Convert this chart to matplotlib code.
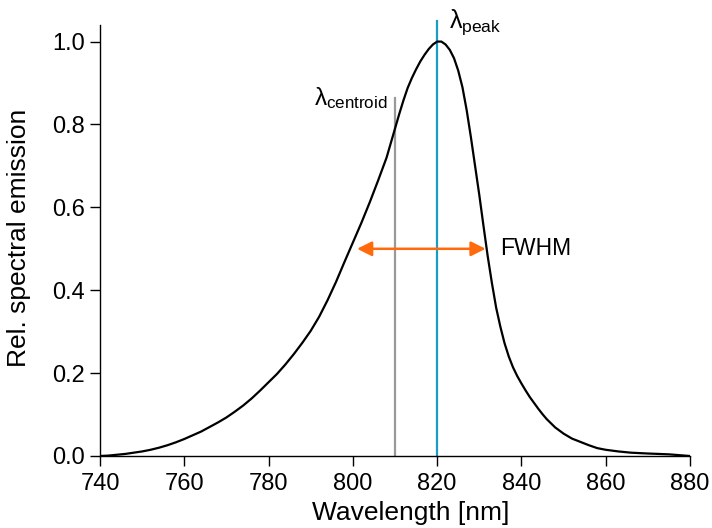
import matplotlib
matplotlib.use("Agg")
import matplotlib.pyplot as plt

# Spectrum
wavelength = [740, 742, 744, 746, 748, 750, 752, 754, 756, 758, 760, 762, 764, 766, 768,
              770, 772, 774, 776, 778, 780, 782, 784, 786, 788, 790, 792, 794, 796, 798,
              800, 802, 804, 806, 808, 809, 810, 811, 812, 813, 814, 815, 816, 817, 818,
              819, 820, 821, 822, 823, 824, 825, 826, 827, 828, 829, 830, 831, 832, 833,
              834, 835, 836, 837, 838, 839, 840, 841, 842, 843, 844, 845, 846, 848, 850,
              852, 854, 856, 858, 860, 863, 866, 870, 875, 880]
emission = [0.0, 0.001, 0.003, 0.005, 0.008, 0.011, 0.015, 0.020, 0.026, 0.033, 0.041,
            0.050, 0.059, 0.070, 0.081, 0.093, 0.107, 0.122, 0.139, 0.158, 0.178, 0.198,
            0.221, 0.246, 0.273, 0.302, 0.336, 0.376, 0.420, 0.468, 0.515, 0.562, 0.612,
            0.665, 0.720, 0.755, 0.790, 0.825, 0.858, 0.888, 0.912, 0.933, 0.952, 0.968,
            0.982, 0.993, 1.0, 1.0, 0.993, 0.980, 0.960, 0.930, 0.890, 0.835, 0.770,
            0.700, 0.630, 0.555, 0.482, 0.417, 0.358, 0.312, 0.272, 0.240, 0.214, 0.193,
            0.175, 0.158, 0.142, 0.128, 0.114, 0.101, 0.089, 0.069, 0.054, 0.042, 0.034,
            0.026, 0.019, 0.015, 0.011, 0.008, 0.006, 0.004, 0.0]

centroid = 810
centroid_top = 0.865
peak = 820
peak_top = 1.05
fwhm_left = 801
fwhm_right = 831.5
half = 0.5

xticks = [740, 760, 780, 800, 820, 840, 860, 880]
yticks = [0.0, 0.2, 0.4, 0.6, 0.8, 1.0]

plt.rcParams['font.family'] = ['Liberation Sans', 'DejaVu Sans']
plt.rcParams['mathtext.fontset'] = 'custom'
plt.rcParams['mathtext.rm'] = 'Liberation Sans'
plt.rcParams['mathtext.it'] = 'Liberation Sans'

fig = plt.figure(figsize=(7.12, 5.28), dpi=100)
ax = fig.add_axes([100/712, (528-456)/528, (690-100)/712, (456-25)/528])

ax.plot(wavelength, emission, color='black', lw=1.6, zorder=3, solid_joinstyle='round')
ax.plot([centroid, centroid], [0, centroid_top], color='#999999', lw=1.6, zorder=2)
ax.plot([peak, peak], [0, peak_top], color='#1a9cc4', lw=1.6, zorder=2, clip_on=False)

ax.annotate('', xy=(fwhm_left, half), xytext=(fwhm_right, half),
            arrowprops=dict(arrowstyle='<|-|>', color='#ff6a0d', lw=1.8,
                            mutation_scale=22, shrinkA=0, shrinkB=0), zorder=4)
ax.text(835.0, half, 'FWHM', fontsize=16.5, va='center', ha='left')
ax.text(808.3, 0.895, r'$\lambda_{\mathrm{centroid}}$', fontsize=17.5,
        ha='right', va='top')
ax.text(822.8, 1.082, r'$\lambda_{\mathrm{peak}}$', fontsize=18, ha='left', va='top',
        clip_on=False)

ax.set_xlim(740, 880)
ax.set_ylim(0, 1.04)
ax.set_xticks(xticks)
ax.set_xticklabels([str(t) for t in xticks])
ax.set_yticks(yticks)
ax.set_yticklabels([f'{t:.1f}' for t in yticks])
ax.spines['top'].set_visible(False)
ax.spines['right'].set_visible(False)
for s in ['left', 'bottom']:
    ax.spines[s].set_linewidth(1.0)
ax.tick_params(direction='out', length=7, width=1.0, labelsize=17)
ax.tick_params(axis='x', pad=5)
ax.tick_params(axis='y', pad=4)
ax.set_xlabel('Wavelength [nm]', fontsize=19)
ax.xaxis.set_label_coords(0.527, -0.105)
ax.set_ylabel('Rel. spectral emission', fontsize=19)
ax.yaxis.set_label_coords(-0.117, 0.505)

fig.savefig('out.png', dpi=100)
